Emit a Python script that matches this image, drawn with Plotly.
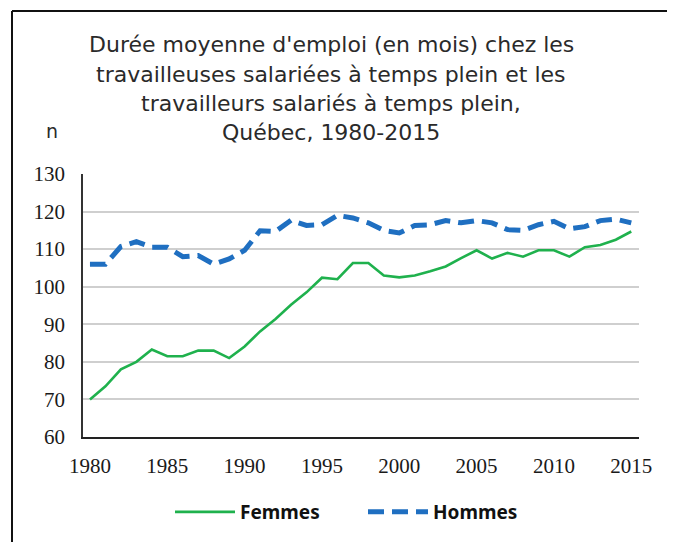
import plotly.graph_objects as go

years = list(range(1980, 2016))
femmes = [70, 73.5, 78, 80, 83.3, 81.5, 81.5, 83, 83, 81, 84.1, 88.1, 91.4, 95.2, 98.5, 102.4, 102,
          106.3, 106.3, 103, 102.5, 103, 104.1, 105.4, 107.6, 109.7, 107.5, 109, 108, 109.7, 109.7,
          108, 110.5, 111.1, 112.5, 114.7]
hommes = [106, 106, 110.7, 112, 110.5, 110.5, 108, 108.3, 106, 107.4, 109.7, 114.9, 114.7, 117.7,
          116.3, 116.5, 119, 118.3, 117, 115, 114.3, 116.3, 116.5, 117.6, 117, 117.6, 117, 115.2,
          115, 116.5, 117.4, 115.4, 116, 117.6, 118, 117]
xticks = [1980, 1985, 1990, 1995, 2000, 2005, 2010, 2015]
yticks = [60, 70, 80, 90, 100, 110, 120, 130]
title_lines = ["Durée moyenne d'emploi (en mois) chez les",
               "travailleuses salariées à temps plein et les",
               "travailleurs salariés à temps plein,",
               "Québec, 1980-2015"]

W, H = 675, 542
OFF = 8  # page body margin offset
# plot area in screen coords: x 83..639, y 174..437
L = 83 - OFF
T = 174 - OFF
R = W - (639 - OFF)
B = H - (437 - OFF)
pw, ph = W - L - R, H - T - B

def px(x):
    return (x - OFF - L) / pw

def py(y):
    return (H - B - (y - OFF)) / ph

fig = go.Figure()
fig.add_trace(go.Scatter(x=years, y=femmes, name="Femmes", mode="lines",
                         line=dict(color="#1fb14d", width=2.6)))
fig.add_trace(go.Scatter(x=years, y=hommes, name="Hommes", mode="lines",
                         line=dict(color="#1f6fc1", width=5, dash="16px,8px")))

annotations = []
for i, t in enumerate(title_lines):
    annotations.append(dict(text=t, x=px(331), y=py(45 + i * 29.2), xref="paper", yref="paper",
                            showarrow=False, xanchor="center", yanchor="middle",
                            font=dict(family="DejaVu Sans", size=22, color="#2a2a2a")))
annotations.append(dict(text="n", x=px(52), y=py(131), xref="paper", yref="paper",
                        showarrow=False, xanchor="center", yanchor="middle",
                        font=dict(family="DejaVu Sans", size=19, color="#2a2a2a")))

shapes = [
    dict(type="line", xref="paper", yref="paper", x0=px(12), x1=px(W + 20), y0=py(11), y1=py(11),
         line=dict(color="#111111", width=2)),
    dict(type="line", xref="paper", yref="paper", x0=px(12), x1=px(12), y0=py(11), y1=py(H + 20),
         line=dict(color="#111111", width=2)),
]

fig.update_layout(
    width=W, height=H,
    margin=dict(l=L, r=R, t=T, b=B, pad=0),
    paper_bgcolor="white", plot_bgcolor="white",
    showlegend=True,
    legend=dict(orientation="h", x=px(170), y=py(512), xanchor="left", yanchor="middle",
                font=dict(family="Noto Sans", size=19, color="#111111", weight="bold"),
                itemwidth=60, entrywidth=118, entrywidthmode="pixels",
                traceorder="normal", bgcolor="rgba(0,0,0,0)"),
    annotations=annotations,
    shapes=shapes,
    xaxis=dict(range=[1979.55, 2015.5], tickvals=xticks, ticktext=[str(v) for v in xticks],
               showgrid=False, zeroline=False, showline=True, linecolor="#222222", linewidth=2,
               ticks="outside", ticklen=9, tickcolor="rgba(0,0,0,0)",
               tickfont=dict(family="Liberation Serif", size=21, color="#1a1a1a")),
    yaxis=dict(range=[60, 130], tickvals=yticks, ticktext=[str(v) for v in yticks],
               showgrid=True, gridcolor="#cfcfcf", gridwidth=1.5, zeroline=False,
               showline=True, linecolor="#333333", linewidth=1.5,
               ticks="outside", ticklen=12, tickcolor="rgba(0,0,0,0)",
               tickfont=dict(family="Liberation Serif", size=21, color="#1a1a1a")),
)

fig.write_html("out.html")
